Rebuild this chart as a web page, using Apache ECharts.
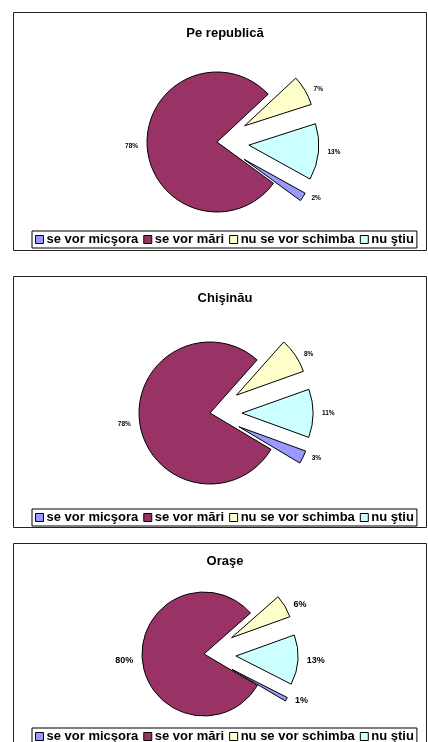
<!DOCTYPE html>
<html lang="ro">
<head>
    <meta charset="UTF-8">
    <title>Pie</title>
    <script src="https://cdn.jsdelivr.net/npm/echarts@6/dist/echarts.min.js"></script>
    <style>
        html, body { margin: 0; padding: 0; background: #fff; }
    </style>
</head>
<body>
<div id="myChart" style="width: 428px;height: 742px;"></div>
<script>
    // data
    var names = ['se vor micşora', 'se vor mări', 'nu se vor schimba', 'nu ştiu'];
    var titles = ['Pe republică', 'Chişinău', 'Oraşe'];
    var republica = [2, 78, 7, 13];
    var chisinau = [3, 78, 8, 11];
    var orase = [1, 80, 6, 13];
    var values = [republica, chisinau, orase];

    var colors = ['#9999FF', '#993366', '#FFFFCC', '#CCFFFF'];
    var font = 'Liberation Sans, Arial, sans-serif';

    // layout of the three panels
    var panels = [
        {top: 12, bottom: 250, cx: 217, cy: 142, r: 70, start: -29, titleY: 27, legendTop: 231, label: 6.5},
        {top: 276, bottom: 527, cx: 210, cy: 413, r: 71, start: -20, titleY: 292, legendTop: 509, label: 6.5},
        {top: 543, bottom: 760, cx: 204, cy: 654, r: 62, start: -27, titleY: 555, legendTop: 728, label: 9}
    ];

    var myChart = echarts.init(document.getElementById('myChart'));

    var title = [], legend = [], series = [], graphic = [];
    panels.forEach(function (p, k) {
        graphic.push({
            type: 'rect',
            shape: {x: 13.5, y: p.top + 0.5, width: 413, height: p.bottom - p.top},
            style: {fill: '#fff', stroke: '#222', lineWidth: 1},
            z: -10
        });
        title.push({
            text: titles[k],
            left: 225,
            top: p.titleY,
            textAlign: 'center',
            padding: 0,
            textStyle: {fontFamily: font, fontSize: 13, fontWeight: 'bold', color: '#000'}
        });
        legend.push({
            left: 32,
            top: p.legendTop,
            data: names,
            icon: 'rect',
            itemWidth: 8,
            itemHeight: 8,
            itemGap: 5,
            padding: [2, 3, 2, 3],
            borderColor: '#000',
            borderWidth: 1,
            backgroundColor: '#fff',
            selectedMode: false,
            itemStyle: {borderColor: '#000', borderWidth: 1},
            textStyle: {fontFamily: font, fontSize: 13, fontWeight: 'bold', color: '#000', padding: [0, 0, 0, -2]}
        });
        series.push({
            type: 'pie',
            center: [p.cx, p.cy],
            radius: p.r,
            startAngle: p.start,
            clockwise: true,
            selectedMode: 'multiple',
            selectedOffset: 32,
            avoidLabelOverlap: false,
            animation: false,
            itemStyle: {borderColor: '#000', borderWidth: 1},
            label: {
                show: true,
                position: 'outside',
                formatter: '{c}%',
                fontFamily: font,
                fontSize: p.label,
                fontWeight: 'bold',
                color: '#000'
            },
            labelLine: {show: false, length: 3, length2: 1},
            emphasis: {disabled: true},
            data: values[k].map(function (v, i) {
                return {
                    name: names[i],
                    value: v,
                    selected: i !== 1,
                    itemStyle: {color: colors[i]},
                    select: {itemStyle: {color: colors[i], borderColor: '#000', borderWidth: 1}}
                };
            })
        });
    });

    var option = {
        animation: false,
        color: colors,
        title: title,
        legend: legend,
        graphic: graphic,
        series: series
    };
    myChart.setOption(option);
</script>
</body>
</html>
